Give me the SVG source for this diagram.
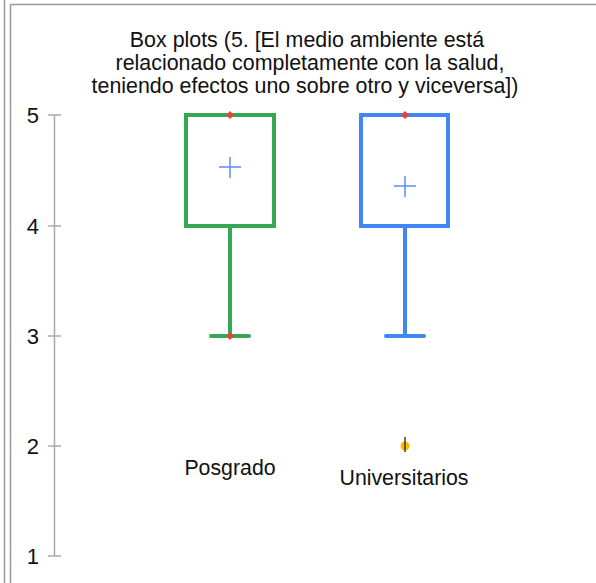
<svg xmlns="http://www.w3.org/2000/svg" width="596" height="583" viewBox="0 0 596 583">
<style>
text{font-family:"Liberation Sans",Arial,sans-serif;fill:#111}
.t{font-size:21.4px;text-anchor:middle}
.ax{font-size:22px;text-anchor:end}
.lb{font-size:21.3px;text-anchor:middle}
.axis{stroke:#aaa;stroke-width:1.5;fill:none}
.frame{stroke:#999;stroke-width:1.5;fill:none}
.g{stroke:#34a853;stroke-width:4;fill:none}
.b{stroke:#4285f4;stroke-width:4;fill:none}
.mean{stroke:#5b8ff5;stroke-width:1.5;fill:none}
.med{fill:#ea4335}
</style>
<rect width="596" height="583" fill="#fff"/>
<g id="frame">
<line class="frame" x1="4.5" y1="0" x2="4.5" y2="583"/>
<line class="frame" x1="10.5" y1="4.5" x2="10.5" y2="583"/>
<line class="frame" x1="10.5" y1="4.5" x2="596" y2="4.5"/>
</g>
<g id="title">
<text class="t" x="307" y="47">Box plots (5. [El medio ambiente está</text>
<text class="t" x="310" y="70">relacionado completamente con la salud,</text>
<text class="t" x="305" y="93">teniendo efectos uno sobre otro y viceversa])</text>
</g>
<g id="axis">
<line class="axis" x1="54.5" y1="115" x2="54.5" y2="556"/>
<line class="axis" x1="48" y1="115" x2="61" y2="115"/>
<line class="axis" x1="48" y1="226" x2="61" y2="226"/>
<line class="axis" x1="48" y1="336" x2="61" y2="336"/>
<line class="axis" x1="48" y1="446" x2="61" y2="446"/>
<line class="axis" x1="48" y1="556" x2="61" y2="556"/>
<text class="ax" x="39" y="123">5</text>
<text class="ax" x="39" y="234">4</text>
<text class="ax" x="39" y="344">3</text>
<text class="ax" x="39" y="454">2</text>
<text class="ax" x="39" y="564">1</text>
</g>
<g id="posgrado">
<rect class="g" x="186" y="115" width="88" height="111"/>
<line class="g" x1="230" y1="226" x2="230" y2="336"/>
<line class="g" x1="211" y1="336" x2="249" y2="336" stroke-linecap="round"/>
<path class="mean" d="M219 167H241M230 157V178"/>
<path class="med" d="M230 111L234 115L230 119L226 115Z"/>
<path class="med" d="M230 332L234 336L230 340L226 336Z"/>
<text class="lb" x="230" y="475">Posgrado</text>
</g>
<g id="universitarios">
<rect class="b" x="361" y="115" width="87" height="111"/>
<line class="b" x1="405" y1="226" x2="405" y2="336"/>
<line class="b" x1="386" y1="336" x2="424" y2="336" stroke-linecap="round"/>
<path class="mean" d="M394 186H416M405 176V197"/>
<path class="med" d="M405 111L409 115L405 119L401 115Z"/>
<circle cx="405" cy="446" r="4.5" fill="#fbbc04"/>
<line x1="405" y1="437" x2="405" y2="452" stroke="#111" stroke-width="1.2"/>
<text class="lb" x="404" y="485">Universitarios</text>
</g>
</svg>
